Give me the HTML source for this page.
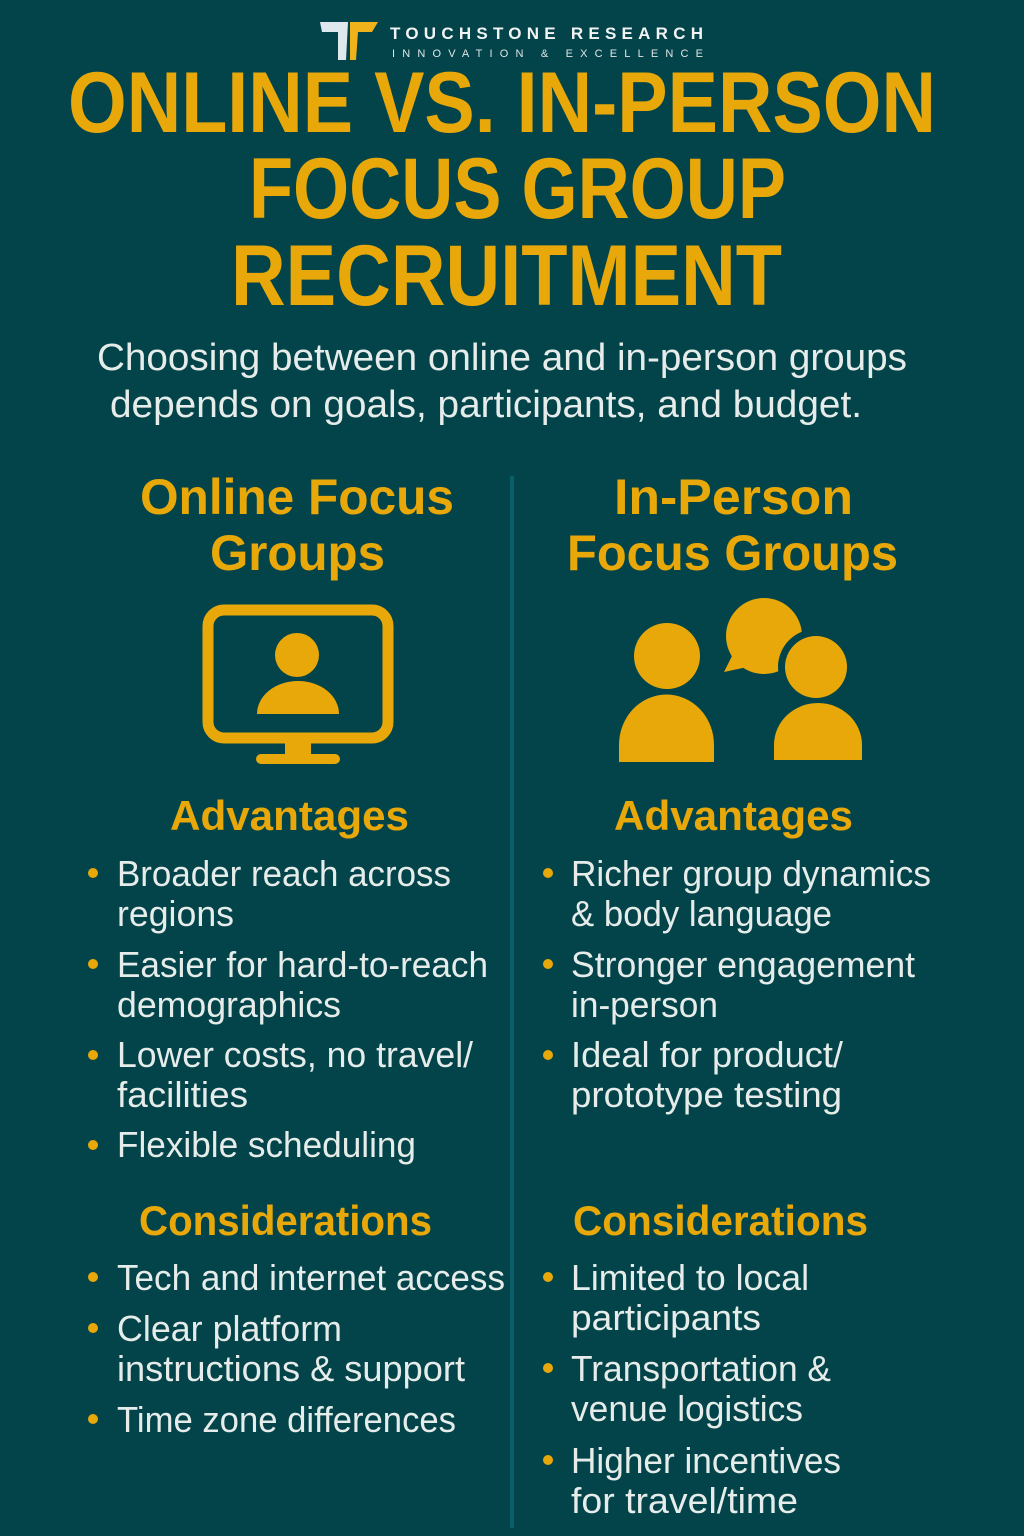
<!DOCTYPE html>
<html><head><meta charset="utf-8"><style>
html,body{margin:0;padding:0;background:#03444a;}
svg{display:block}
text{font-family:"Liberation Sans",sans-serif;}
.t{fill:#e8a80a;font-weight:bold;font-size:86px;}
.h{fill:#e8a80a;font-weight:bold;font-size:50px;}
.a{fill:#e8a80a;font-weight:bold;font-size:42px;}
.b{fill:#e6ecea;font-size:36px;}
.s{fill:#e6ecea;font-size:38px;}
</style></head><body>
<svg width="1024" height="1536" viewBox="0 0 1024 1536" xmlns="http://www.w3.org/2000/svg">
<rect width="1024" height="1536" fill="#03444a"/>
<!-- logo -->
<polygon points="320,22 348,22 346,60 338,60 338,32 322,32" fill="#dfe8ec"/>
<polygon points="350,22 378,22 372,32 358,32 356,60 350,60" fill="#f0b21a"/>
<text x="390" y="39" font-size="17" font-weight="bold" fill="#f2f4f4" textLength="313" lengthAdjust="spacing">TOUCHSTONE RESEARCH</text>
<text x="392" y="57" font-size="11" fill="#e0e6e6" textLength="311" lengthAdjust="spacing">INNOVATION &amp; EXCELLENCE</text>
<!-- title -->
<text class="t" x="68" y="132" textLength="868" lengthAdjust="spacingAndGlyphs">ONLINE VS. IN-PERSON</text>
<text class="t" x="249" y="218" textLength="537" lengthAdjust="spacingAndGlyphs">FOCUS GROUP</text>
<text class="t" x="231" y="305" textLength="551" lengthAdjust="spacingAndGlyphs">RECRUITMENT</text>
<text class="s" x="97" y="370" textLength="810" lengthAdjust="spacingAndGlyphs">Choosing between online and in-person groups</text>
<text class="s" x="110" y="417" textLength="752" lengthAdjust="spacingAndGlyphs">depends on goals, participants, and budget.</text>
<!-- divider -->
<rect x="510" y="476" width="4" height="1052" fill="#0b5f6a"/>
<!-- headings -->
<text class="h" x="140" y="514" textLength="314" lengthAdjust="spacingAndGlyphs">Online Focus</text>
<text class="h" x="210" y="570" textLength="175" lengthAdjust="spacingAndGlyphs">Groups</text>
<text class="h" x="614" y="514" textLength="239" lengthAdjust="spacingAndGlyphs">In-Person</text>
<text class="h" x="567" y="570" textLength="331" lengthAdjust="spacingAndGlyphs">Focus Groups</text>
<!-- monitor icon -->
<g fill="#e8a80a">
<rect x="208" y="610" width="180" height="128" rx="16" fill="none" stroke="#e8a80a" stroke-width="11"/>
<rect x="285" y="740" width="26" height="16"/>
<rect x="256" y="754" width="84" height="10" rx="5"/>
<ellipse cx="297" cy="655" rx="22" ry="22"/>
<path d="M257,714 A41,33 0 0 1 339,714 Z"/>
<!-- people icon -->
<circle cx="764" cy="636" r="38"/>
<path d="M734,652 L724,672 L752,666 Z"/>
<circle cx="816" cy="667" r="38" fill="#03444a"/>
<ellipse cx="816" cy="667" rx="31" ry="31"/>
<path d="M774,760 L774,745 A44,42 0 0 1 862,745 L862,760 Z"/>
<ellipse cx="667" cy="656" rx="33" ry="33"/>
<path d="M619,762 L619,745 A47,50 0 0 1 714,745 L714,762 Z"/>
</g>
<!-- advantages -->
<text class="a" x="170" y="830" textLength="239" lengthAdjust="spacingAndGlyphs">Advantages</text>
<text class="a" x="614" y="830" textLength="239" lengthAdjust="spacingAndGlyphs">Advantages</text>
<g fill="#e8a80a">
<circle cx="93" cy="873" r="5"/><circle cx="93" cy="964" r="5"/><circle cx="93" cy="1055" r="5"/><circle cx="93" cy="1145" r="5"/>
<circle cx="548" cy="873" r="5"/><circle cx="548" cy="964" r="5"/><circle cx="548" cy="1055" r="5"/>
<circle cx="93" cy="1277" r="5"/><circle cx="93" cy="1328" r="5"/><circle cx="93" cy="1419" r="5"/>
<circle cx="548" cy="1277" r="5"/><circle cx="548" cy="1368" r="5"/><circle cx="548" cy="1460" r="5"/>
</g>
<text class="b" x="117" y="886" textLength="334" lengthAdjust="spacingAndGlyphs">Broader reach across</text>
<text class="b" x="117" y="926" textLength="117" lengthAdjust="spacingAndGlyphs">regions</text>
<text class="b" x="117" y="977" textLength="371" lengthAdjust="spacingAndGlyphs">Easier for hard-to-reach</text>
<text class="b" x="117" y="1017" textLength="224" lengthAdjust="spacingAndGlyphs">demographics</text>
<text class="b" x="117" y="1067" textLength="356" lengthAdjust="spacingAndGlyphs">Lower costs, no travel/</text>
<text class="b" x="117" y="1107" textLength="131" lengthAdjust="spacingAndGlyphs">facilities</text>
<text class="b" x="117" y="1157" textLength="299" lengthAdjust="spacingAndGlyphs">Flexible scheduling</text>
<text class="b" x="571" y="886" textLength="360" lengthAdjust="spacingAndGlyphs">Richer group dynamics</text>
<text class="b" x="571" y="926" textLength="261" lengthAdjust="spacingAndGlyphs">&amp; body language</text>
<text class="b" x="571" y="977" textLength="344" lengthAdjust="spacingAndGlyphs">Stronger engagement</text>
<text class="b" x="571" y="1017" textLength="147" lengthAdjust="spacingAndGlyphs">in-person</text>
<text class="b" x="571" y="1067" textLength="272" lengthAdjust="spacingAndGlyphs">Ideal for product/</text>
<text class="b" x="571" y="1107" textLength="271" lengthAdjust="spacingAndGlyphs">prototype testing</text>
<!-- considerations -->
<text class="a" x="139" y="1235" textLength="293" lengthAdjust="spacingAndGlyphs">Considerations</text>
<text class="a" x="573" y="1235" textLength="295" lengthAdjust="spacingAndGlyphs">Considerations</text>
<text class="b" x="117" y="1290" textLength="388" lengthAdjust="spacingAndGlyphs">Tech and internet access</text>
<text class="b" x="117" y="1341" textLength="225" lengthAdjust="spacingAndGlyphs">Clear platform</text>
<text class="b" x="117" y="1381" textLength="348" lengthAdjust="spacingAndGlyphs">instructions &amp; support</text>
<text class="b" x="117" y="1432" textLength="339" lengthAdjust="spacingAndGlyphs">Time zone differences</text>
<text class="b" x="571" y="1290" textLength="238" lengthAdjust="spacingAndGlyphs">Limited to local</text>
<text class="b" x="571" y="1330" textLength="190" lengthAdjust="spacingAndGlyphs">participants</text>
<text class="b" x="571" y="1381" textLength="260" lengthAdjust="spacingAndGlyphs">Transportation &amp;</text>
<text class="b" x="571" y="1421" textLength="232" lengthAdjust="spacingAndGlyphs">venue logistics</text>
<text class="b" x="571" y="1473" textLength="270" lengthAdjust="spacingAndGlyphs">Higher incentives</text>
<text class="b" x="571" y="1513" textLength="227" lengthAdjust="spacingAndGlyphs">for travel/time</text>
</svg>
</body></html>
